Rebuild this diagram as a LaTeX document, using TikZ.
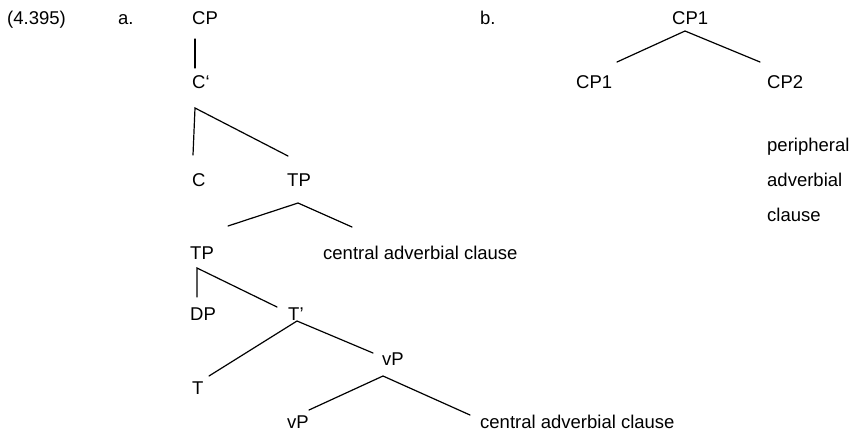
\documentclass[tikz,border=0pt]{standalone}
\usepackage{fontspec}
\setmainfont{Liberation Sans}
\usetikzlibrary{positioning}

\begin{document}
\begin{tikzpicture}[
  x=1pt, y=-1pt,
  lbl/.style={inner sep=0pt, anchor=base west, font=\fontsize{18.5}{21}\selectfont},
  branch/.style={line width=1.2pt, line cap=round}
]
  \useasboundingbox (0,0) rectangle (851,432);

  % Example number and sub-labels
  \node[lbl] (num) at (7,24.5) {(4.395)};
  \node[lbl] (a) at (118,24.5) {a.};
  \node[lbl] (b) at (480,24.5) {b.};

  % Tree a: nodes
  \node[lbl] (cp) at (192,24.5) {CP};
  \node[lbl] (cbar) at (192,88) {C‘};
  \node[lbl] (c) at (192,186) {C};
  \node[lbl] (tp) at (287,186) {TP};
  \node[lbl] (tpl) at (190,259) {TP};
  \node[lbl] (adv1) at (323,259) {central adverbial clause};
  \node[lbl] (dp) at (190,320) {DP};
  \node[lbl] (tbar) at (288,320) {T’};
  \node[lbl] (vp) at (382,365) {vP};
  \node[lbl] (t) at (192,394) {T};
  \node[lbl] (vpl) at (287,428) {vP};
  \node[lbl] (adv2) at (480,428) {central adverbial clause};

  % Tree a: branch points
  \coordinate (cp-s) at (195,39);
  \coordinate (cbar-n) at (195,68);
  \coordinate (cbar-s) at (195,108);
  \coordinate (c-n) at (193,155);
  \coordinate (tp-n) at (288,156);
  \coordinate (tp-s) at (298,203);
  \coordinate (tpl-n) at (228,226);
  \coordinate (adv1-n) at (352,227);
  \coordinate (tpl-s) at (197,268);
  \coordinate (dp-n) at (197,297);
  \coordinate (tbar-n) at (277,307);
  \coordinate (tbar-s) at (297,321);
  \coordinate (t-n) at (209,376);
  \coordinate (vp-n) at (373,353);
  \coordinate (vp-s) at (383,376);
  \coordinate (vpl-n) at (309,410);
  \coordinate (adv2-n) at (470,415);

  % Tree a: branches
  \draw[branch] (cp-s) -- (cbar-n);
  \draw[branch] (c-n) -- (cbar-s) -- (tp-n);
  \draw[branch] (tpl-n) -- (tp-s) -- (adv1-n);
  \draw[branch] (dp-n) -- (tpl-s) -- (tbar-n);
  \draw[branch] (t-n) -- (tbar-s) -- (vp-n);
  \draw[branch] (vpl-n) -- (vp-s) -- (adv2-n);

  % Tree b
  \node[lbl] (cp1) at (672,24.5) {CP1};
  \node[lbl] (cp1l) at (576,88) {CP1};
  \node[lbl] (cp2) at (767,88) {CP2};
  \node[lbl] (per1) at (767,151) {peripheral};
  \node[lbl] (per2) at (767,186) {adverbial};
  \node[lbl] (per3) at (767,221) {clause};

  \coordinate (cp1-s) at (685,31);
  \coordinate (cp1l-n) at (617,62);
  \coordinate (cp2-n) at (760,62);
  \draw[branch] (cp1l-n) -- (cp1-s) -- (cp2-n);
\end{tikzpicture}
\end{document}
